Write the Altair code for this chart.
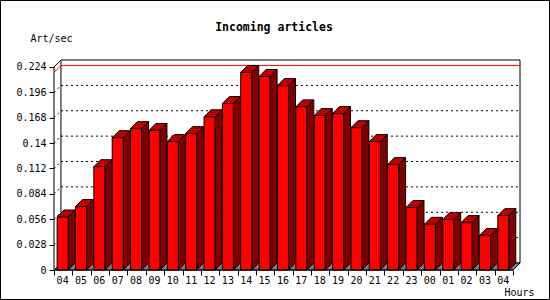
import altair as alt
import pandas as pd

# ---- data ----
hours = ["04", "05", "06", "07", "08", "09", "10", "11", "12", "13", "14", "15",
         "16", "17", "18", "19", "20", "21", "22", "23", "00", "01", "02", "03", "04"]
rates = [0.0585, 0.070, 0.114, 0.146, 0.156, 0.154, 0.1417, 0.1505, 0.169, 0.1837,
         0.2180, 0.2135, 0.2035, 0.180, 0.1704, 0.1726, 0.157, 0.1417, 0.1163, 0.0689,
         0.0504, 0.0556, 0.0523, 0.038, 0.060]
y_ticks = [0, 0.028, 0.056, 0.084, 0.112, 0.14, 0.168, 0.196, 0.224]
title_text = "Incoming articles"
y_title = "Art/sec"
x_title = "Hours"

# ---- 3D geometry constants (in scale units) ----
N = len(hours)
DX, DY = 0.38, 0.0077          # depth offset of the back wall
BL, BW = 0.17, 0.6             # bar left offset and front width within each slot
YMAX = y_ticks[-1]
VMAX = max(rates)
FONT = "DejaVu Sans Mono"

xs = alt.Scale(domain=[0, N + DX], nice=False, zero=False)
ys = alt.Scale(domain=[0, YMAX + DY], nice=False, zero=False)

xaxis = alt.Axis(values=list(range(N + 1)), labels=False, domain=False, grid=False,
                 tickSize=5, tickColor="black", title=x_title, titleX=450, titleY=22,
                 titleAlign="left", titleBaseline="middle", titleFont=FONT,
                 titleFontSize=10, titleFontWeight="normal", titleColor="black")
yaxis = alt.Axis(values=y_ticks, labelExpr="format(datum.value, '~g')", domain=False,
                 grid=False, tickSize=5, tickColor="black", labelFont=FONT,
                 labelFontSize=10, labelColor="black", labelPadding=3,
                 title=y_title, titleAngle=0, titleX=-24, titleY=-22,
                 titleAlign="left", titleBaseline="middle", titleFont=FONT,
                 titleFontSize=10, titleFontWeight="normal", titleColor="black")


def X(f):
    return alt.X(f, type="quantitative", scale=xs, axis=xaxis)


def Y(f):
    return alt.Y(f, type="quantitative", scale=ys, axis=yaxis)


# ---- tables built from the arrays ----
wall = pd.DataFrame({"x": [DX], "x2": [N + DX], "y": [DY], "y2": [YMAX + DY]})
grid = pd.DataFrame({"x": DX, "x2": N + DX, "y": [t + DY for t in y_ticks[1:-1]]})
side_ticks = pd.DataFrame({"x": 0.0, "x2": DX,
                           "y": y_ticks[1:-1], "y2": [t + DY for t in y_ticks[1:-1]]})
corner = pd.DataFrame({"x": [0.0], "x2": [DX], "y": [YMAX], "y2": [YMAX + DY]})
maxline = pd.DataFrame({"x": [DX, 0.0], "x2": [N + DX, DX],
                        "y": [VMAX + DY, VMAX], "y2": [VMAX + DY, VMAX + DY]})
floor = pd.DataFrame({"x": [0, DX, N, N + DX], "y": [0, DY, DY, DY], "y2": [0, 0, 0, DY]})
front_axes = pd.DataFrame({"x": [0.0, 0.0], "x2": [0.0, float(N)],
                           "y": [0.0, 0.0], "y2": [YMAX, 0.0]})

front_rows, side_rows, top_rows = [], [], []
for i, (h, v) in enumerate(zip(hours, rates)):
    L = i + BL
    R = L + BW
    front_rows.append({"bar": i, "hour": h, "x": L, "x2": R, "v": v, "xc": L + BW / 2})
    side_rows += [{"bar": i, "x": R, "y": v, "y2": 0.0},
                  {"bar": i, "x": R + DX, "y": v + DY, "y2": DY}]
    top_rows += [{"bar": i, "x": L, "y": v, "y2": v},
                 {"bar": i, "x": L + DX, "y": v + DY, "y2": v},
                 {"bar": i, "x": R, "y": v + DY, "y2": v},
                 {"bar": i, "x": R + DX, "y": v + DY, "y2": v + DY}]
front = pd.DataFrame(front_rows)
side = pd.DataFrame(side_rows)
top = pd.DataFrame(top_rows)

# ---- layers ----
wall_l = alt.Chart(wall).mark_rect(fill="white", stroke="black", strokeWidth=1).encode(
    x=X("x"), x2="x2", y=Y("y"), y2="y2")
grid_l = alt.Chart(grid).mark_rule(color="black", strokeWidth=1, strokeDash=[2, 3]).encode(
    x=X("x"), x2="x2", y=Y("y"))
side_ticks_l = alt.Chart(side_ticks).mark_rule(color="black", strokeWidth=1,
                                               strokeDash=[2, 3]).encode(
    x=X("x"), x2="x2", y=Y("y"), y2="y2")
corner_l = alt.Chart(corner).mark_rule(color="black", strokeWidth=1).encode(
    x=X("x"), x2="x2", y=Y("y"), y2="y2")
max_l = alt.Chart(maxline).mark_rule(color="#ff0000", strokeWidth=1).encode(
    x=X("x"), x2="x2", y=Y("y"), y2="y2")
floor_l = alt.Chart(floor).mark_area(orient="vertical", fill="#808080", stroke="black",
                                     strokeWidth=1, interpolate="linear").encode(
    x=X("x"), y=Y("y"), y2="y2")
side_l = alt.Chart(side).mark_area(orient="vertical", fill="#800000", stroke="black",
                                   strokeWidth=1, interpolate="linear").encode(
    x=X("x"), y=Y("y"), y2="y2", detail="bar:N")
top_l = alt.Chart(top).mark_area(orient="vertical", fill="#c00000", stroke="black",
                                 strokeWidth=1, interpolate="linear").encode(
    x=X("x"), y=Y("y"), y2="y2", detail="bar:N")
front_l = alt.Chart(front).mark_rect(fill="#ff0000", stroke="black", strokeWidth=1).encode(
    x=X("x"), x2="x2", y=Y("v"), y2=alt.Y2(datum=0))
axes_l = alt.Chart(front_axes).mark_rule(color="black", strokeWidth=1).encode(
    x=X("x"), x2="x2", y=Y("y"), y2="y2")
labels_l = alt.Chart(front).mark_text(font=FONT, fontSize=10, color="black",
                                      baseline="middle", align="center").encode(
    x=X("xc"), y=alt.value(221), text="hour:N")
border_l = alt.Chart(pd.DataFrame({"k": [0]})).mark_rect(
    fill=None, stroke="black", strokeWidth=1).encode(
    x=alt.value(-53.5), x2=alt.value(495.5), y=alt.value(-59.5), y2=alt.value(239.5))

chart = alt.layer(
    wall_l, grid_l, side_ticks_l, corner_l, max_l, floor_l,
    side_l, top_l, front_l, axes_l, labels_l, border_l
).properties(
    width=466, height=210,
    title=alt.TitleParams(title_text, font=FONT, fontSize=11.5, fontWeight="bold",
                          color="black", anchor="middle", frame="group", dx=-13,
                          dy=43, baseline="middle"),
    padding={"left": 54, "top": 60, "right": 30, "bottom": 30},
    autosize=alt.AutoSizeParams(type="none"),
    background="white",
).configure_view(stroke=None)

chart.save("out.html", embed_options={"renderer": "svg", "actions": False})
